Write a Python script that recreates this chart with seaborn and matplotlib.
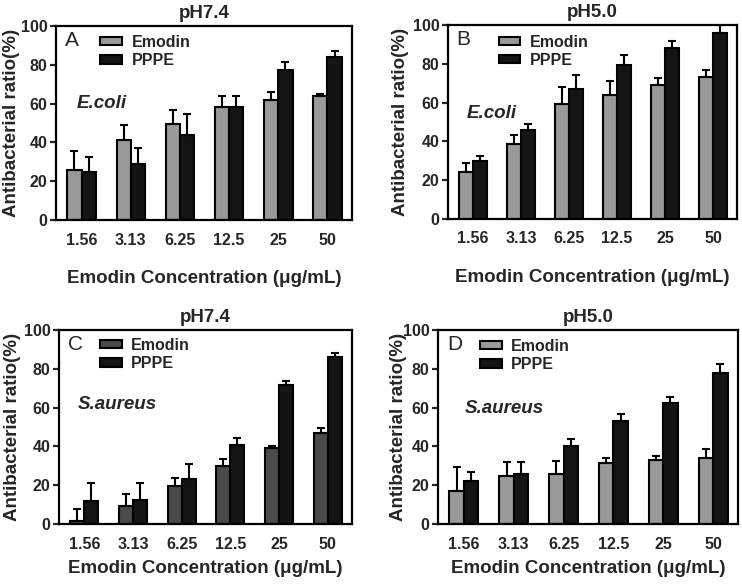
import pandas as pd
import matplotlib
import matplotlib.pyplot as plt
import numpy as np
import seaborn as sns

concs = ["1.56", "3.13", "6.25", "12.5", "25", "50"]

# A: E.coli pH7.4
a_emodin = [26, 41, 49.5, 58, 62, 64]
a_emodin_err = [9.5, 8, 7, 6, 4, 0.7]
a_pppe = [24.5, 29, 44, 58, 77.5, 84]
a_pppe_err = [8, 8, 10.5, 6, 4, 3]

# B: E.coli pH5.0
b_emodin = [24, 38.5, 59.5, 64, 69, 73]
b_emodin_err = [5, 5, 8.4, 7, 3.5, 3.6]
b_pppe = [30, 46, 67, 79.5, 88, 96]
b_pppe_err = [2.5, 2.8, 7, 5, 3.6, 4]

# C: S.aureus pH7.4
c_emodin = [1.5, 9.5, 19.5, 30, 39, 47]
c_emodin_err = [6, 6, 4, 3.6, 1, 2.4]
c_pppe = [12, 12.3, 23, 40.5, 71.5, 86]
c_pppe_err = [9, 9, 8, 3.6, 2.4, 2.4]

# D: S.aureus pH5.0
d_emodin = [17, 25, 26, 31.5, 33, 34]
d_emodin_err = [12.5, 7, 6.4, 2.7, 2.2, 4.8]
d_pppe = [22, 26, 40, 53, 62.5, 78]
d_pppe_err = [5, 6, 4, 3.6, 3, 4.5]

sns.set_style("ticks")
plt.rcParams['font.family'] = ['Liberation Sans', 'DejaVu Sans']

fig = plt.figure(figsize=(7.42, 5.87), dpi=100)

panels = [
    # rect, letter, title, species, emodin, emodin_err, pppe, pppe_err, emodin color,
    # species pos, legend anchor, xlabel pad, ylabel x
    ([0.0755, 0.6252, 0.399, 0.3305], "A", "pH7.4", "E.coli", a_emodin, a_emodin_err, a_pppe, a_pppe_err, "#999999", (0.07, 0.60), (0.15, 0.955), 16, -0.122),
    ([0.6038, 0.6270, 0.3895, 0.3305], "B", "pH5.0", "E.coli", b_emodin, b_emodin_err, b_pppe, b_pppe_err, "#999999", (0.066, 0.546), (0.175, 0.95), 16, -0.135),
    ([0.0795, 0.1073, 0.395, 0.3305], "C", "pH7.4", "S.aureus", c_emodin, c_emodin_err, c_pppe, c_pppe_err, "#4a4a4a", (0.065, 0.614), (0.14, 0.96), 6, -0.13),
    ([0.5903, 0.1073, 0.4043, 0.3305], "D", "pH5.0", "S.aureus", d_emodin, d_emodin_err, d_pppe, d_pppe_err, "#999999", (0.088, 0.597), (0.14, 0.955), 6, -0.103),
]

for rect, letter, title, species, em, em_err, pp, pp_err, em_col, sp_pos, leg_pos, xpad, ylx in panels:
    ax = fig.add_axes(rect)
    df = pd.DataFrame({
        "conc": concs * 2,
        "ratio": em + pp,
        "group": ["Emodin"] * len(concs) + ["PPPE"] * len(concs),
    })
    sns.barplot(data=df, x="conc", y="ratio", hue="group", palette=[em_col, "#141414"],
                edgecolor="black", linewidth=1.5, width=0.58, gap=0, errorbar=None,
                saturation=1, ax=ax)
    # upper-only error bars
    for cont, errs in zip(ax.containers, [em_err, pp_err]):
        xs = [b.get_x() + b.get_width() / 2 for b in cont]
        hs = [b.get_height() for b in cont]
        ax.errorbar(xs, hs, yerr=[np.zeros(len(errs)), errs], fmt="none", ecolor="black",
                    elinewidth=1.5, capsize=3, capthick=1.5, zorder=1)

    ax.set_xlim(-0.52, 5.5)
    ax.set_ylim(0, 100)
    ax.set_yticks([0, 20, 40, 60, 80, 100])
    for s in ax.spines.values():
        s.set_linewidth(1.6)
        s.set_color("black")
    ax.tick_params(axis="x", length=0, pad=9, labelsize=11.5)
    ax.tick_params(axis="y", length=4, width=1.6, labelsize=11.5, pad=2)
    for lab in ax.get_xticklabels() + ax.get_yticklabels():
        lab.set_fontweight("bold")
    ax.set_xlabel("Emodin Concentration (\u03bcg/mL)", fontsize=13.5, fontweight="bold", labelpad=xpad)
    ax.set_ylabel("Antibacterial ratio(%)", fontsize=13.5, fontweight="bold")
    ax.yaxis.set_label_coords(ylx, 0.5)
    ax.set_title(title, fontsize=13.5, fontweight="bold", pad=6)

    ax.text(0.03, 0.975, letter, transform=ax.transAxes, fontsize=15, va="top", ha="left")
    ax.text(sp_pos[0], sp_pos[1], species, transform=ax.transAxes, fontsize=13.5,
            fontweight="bold", fontstyle="italic", va="center", ha="left")

    ax.legend(loc="upper left", bbox_to_anchor=leg_pos, frameon=False, borderpad=0,
              borderaxespad=0, handlelength=1.35, handleheight=0.45, handletextpad=0.6,
              labelspacing=0.2, prop={"weight": "bold", "size": 11.5})

fig.savefig("out.png", dpi=100)
